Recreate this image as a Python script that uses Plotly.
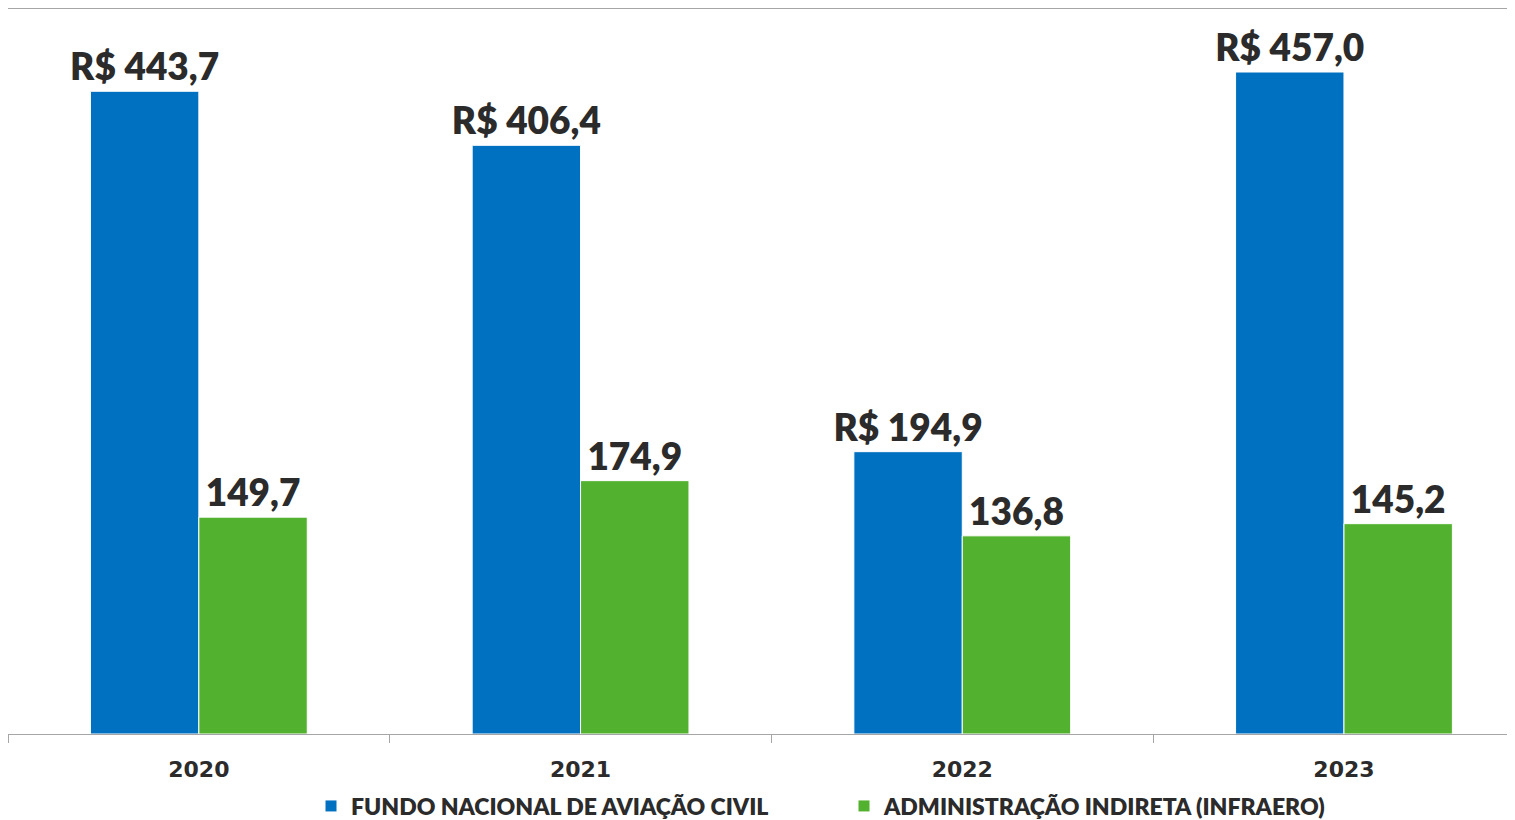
import plotly.graph_objects as go

years = ["2020", "2021", "2022", "2023"]
fnac = [443.7, 406.4, 194.9, 457.0]
infraero = [149.7, 174.9, 136.8, 145.2]
series_names = ["FUNDO NACIONAL DE AVIAÇÃO CIVIL", "ADMINISTRAÇÃO INDIRETA (INFRAERO)"]


def fmt(v):
    return f"{v:.1f}".replace(".", ",")


FONT = "Lato"
TXT = "#2b2b2b"
LABEL_FONT = dict(family=FONT, size=37, color=TXT, weight=800)

fig = go.Figure()
fig.add_trace(go.Bar(
    x=years, y=fnac, name=series_names[0],
    marker=dict(color="#0070C0", line=dict(color="#ffffff", width=1)),
    text=["R$ " + fmt(v) for v in fnac], textposition="outside",
    textfont=LABEL_FONT, constraintext="none", cliponaxis=False,
))
fig.add_trace(go.Bar(
    x=years, y=infraero, name=series_names[1],
    marker=dict(color="#52B12F", line=dict(color="#ffffff", width=1)),
    text=[fmt(v) for v in infraero], textposition="outside",
    textfont=LABEL_FONT, constraintext="none", cliponaxis=False,
))

fig.update_layout(
    width=1515, height=820,
    margin=dict(l=0, r=0, t=1, b=94, autoexpand=False),
    paper_bgcolor="white", plot_bgcolor="white",
    barmode="group", bargap=0.432, bargroupgap=0,
    showlegend=True,
    legend=dict(orientation="h", x=0.2, xanchor="left", y=-0.0993, yanchor="middle",
                font=dict(family=FONT, size=23, color=TXT, weight=800),
                entrywidth=488, entrywidthmode="pixels", itemwidth=30,
                bgcolor="rgba(0,0,0,0)"),
    font=dict(family=FONT, color=TXT),
)
fig.update_xaxes(
    type="category", range=[-0.5, 3.469],
    showline=True, linecolor="#a6a6a6", linewidth=1, mirror=True,
    ticks="outside", tickson="boundaries", ticklen=8, tickcolor="#a6a6a6",
    tickfont=dict(family="DejaVu Sans", size=22, color=TXT, weight="bold"),
    ticklabelstandoff=16, showgrid=False, zeroline=False,
)
fig.update_yaxes(
    range=[0, 500.5], showticklabels=False, showgrid=False, zeroline=False,
    showline=True, linecolor="#a6a6a6", linewidth=1, mirror=True, ticks="",
)

fig.write_html("out.html")
